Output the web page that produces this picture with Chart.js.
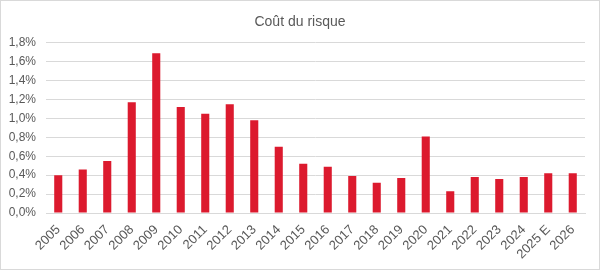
<!DOCTYPE html>
<html>
<head>
<meta charset="utf-8">
<script src="https://cdn.jsdelivr.net/npm/chart.js@4/dist/chart.umd.min.js"></script>
<style>
  html, body { margin: 0; padding: 0; background: #fff; }
  #wrap { position: relative; width: 598px; height: 268px; border: 1px solid #d9d9d9; }
</style>
</head>
<body>
<div id="wrap"><canvas id="chart" width="598" height="268"></canvas></div>
<script>
  // years on the x axis
  const years = ['2005', '2006', '2007', '2008', '2009', '2010', '2011', '2012', '2013', '2014', '2015',
    '2016', '2017', '2018', '2019', '2020', '2021', '2022', '2023', '2024', '2025 E', '2026'];
  // cost of risk, in %
  const costOfRisk = [0.40, 0.46, 0.55, 1.17, 1.69, 1.12, 1.05, 1.15, 0.98, 0.70, 0.52,
    0.49, 0.39, 0.32, 0.37, 0.81, 0.23, 0.38, 0.36, 0.38, 0.42, 0.42];
  // y axis range
  const yMin = 0;
  const yMax = 1.8;
  const yStep = 0.2;

  const grey = '#595959';
  Chart.defaults.font.family = '"Liberation Sans", Arial, sans-serif';
  Chart.defaults.color = grey;

  const ctx = document.getElementById('chart');
  new Chart(ctx, {
    type: 'bar',
    data: {
      labels: years,
      datasets: [{
        label: 'Coût du risque',
        data: costOfRisk,
        backgroundColor: '#dc1a2e',
        borderWidth: 0,
        barPercentage: 0.33,
        categoryPercentage: 1
      }]
    },
    options: {
      responsive: false,
      animation: false,
      layout: { padding: 0 },
      plugins: {
        legend: { display: false },
        tooltip: { enabled: false },
        title: {
          display: true,
          text: 'Coût du risque',
          color: grey,
          font: { size: 14, weight: 'normal' },
          padding: { top: 13, bottom: 12 }
        }
      },
      scales: {
        x: {
          grid: { display: false, drawTicks: false },
          border: { color: '#d9d9d9', width: 1 },
          ticks: { minRotation: 45, maxRotation: 45, padding: 9, font: { size: 13 }, color: grey, autoSkip: false },
          afterFit: (s) => { s.height = 56; }
        },
        y: {
          min: yMin,
          max: yMax,
          grid: { color: '#d9d9d9', lineWidth: 1, drawTicks: false },
          border: { display: false },
          ticks: {
            stepSize: yStep,
            padding: 10,
            font: { size: 12 },
            color: grey,
            callback: (v) => v.toFixed(1).replace('.', ',') + '%'
          },
          afterFit: (s) => { s.width = 45; }
        },
        // empty right axis, only keeps a margin so the title stays centred
        yRight: {
          position: 'right',
          grid: { display: false, drawTicks: false },
          border: { display: false },
          ticks: { display: false },
          afterFit: (s) => { s.width = 14; }
        }
      }
    }
  });
</script>
</body>
</html>
